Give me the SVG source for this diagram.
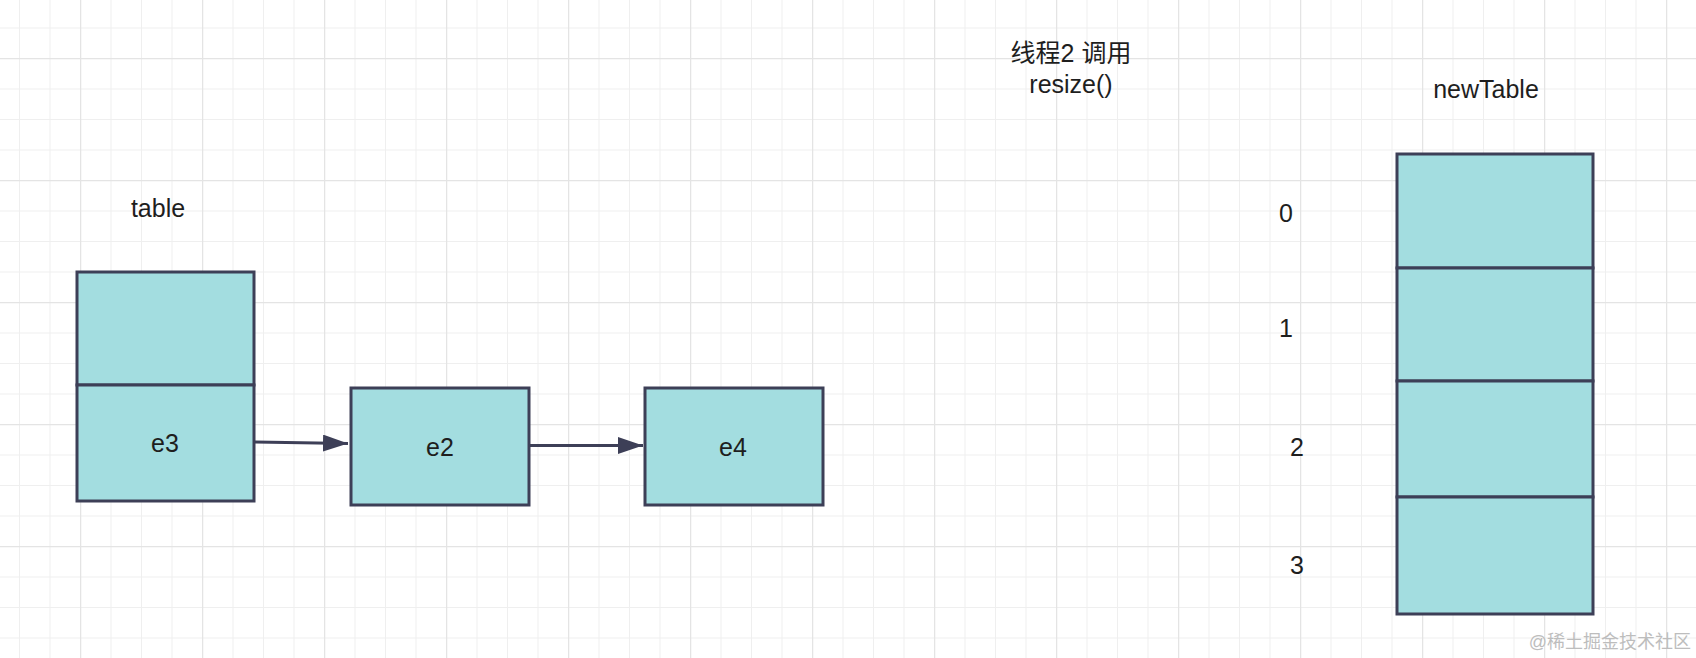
<svg xmlns="http://www.w3.org/2000/svg" width="1696" height="658" viewBox="0 0 1696 658">
  <defs>
    <pattern id="minor" x="19" y="27.5" width="30.5" height="30.5" patternUnits="userSpaceOnUse">
      <path d="M0 0 H30.5 M0 0 V30.5" fill="none" stroke="#efefef" stroke-width="2"/>
    </pattern>
    <pattern id="major" x="80" y="58" width="122" height="122" patternUnits="userSpaceOnUse">
      <path d="M0 0 H122 M0 0 V122" fill="none" stroke="#e4e4e4" stroke-width="2.5"/>
    </pattern>
    <marker id="arrow" markerUnits="userSpaceOnUse" markerWidth="26" markerHeight="18" refX="25" refY="8.5" orient="auto">
      <path d="M0 0 L25 8.5 L0 17 Z" fill="#3d3f57"/>
    </marker>
  </defs>
  <style>
    .cell { fill: #a3dde0; stroke: #3d3f57; stroke-width: 3; }
    .lbl { font-family: "Liberation Sans", Arial, "Noto Sans CJK SC", sans-serif; font-size: 25px; fill: #1e1e1e; }
    .mid { text-anchor: middle; }
    .conn { stroke: #3d3f57; stroke-width: 3; fill: none; }
  </style>
  <rect width="1696" height="658" fill="#ffffff"/>
  <rect width="1696" height="658" fill="url(#minor)"/>
  <rect width="1696" height="658" fill="url(#major)"/>

  <text class="lbl mid" x="158" y="217">table</text>

  <g id="table">
    <rect class="cell" x="77" y="272" width="177" height="113"/>
    <rect class="cell" x="77" y="385" width="177" height="116"/>
    <text class="lbl mid" x="165" y="452">e3</text>
  </g>

  <g id="e2">
    <rect class="cell" x="351" y="388" width="178" height="117"/>
    <text class="lbl mid" x="440" y="456">e2</text>
  </g>

  <g id="e4">
    <rect class="cell" x="645" y="388" width="178" height="117"/>
    <text class="lbl mid" x="733" y="456">e4</text>
  </g>

  <g id="connectors">
    <path class="conn" d="M255 442 L348 443.5" marker-end="url(#arrow)"/>
    <path class="conn" d="M530 445.5 L643 445.5" marker-end="url(#arrow)"/>
  </g>

  <g id="note">
    <text class="lbl mid" x="1071" y="62">线程2 调用</text>
    <text class="lbl mid" x="1071" y="93">resize()</text>
  </g>

  <text class="lbl mid" x="1486" y="98">newTable</text>

  <g id="newTable">
    <rect class="cell" x="1397" y="154" width="196" height="114"/>
    <rect class="cell" x="1397" y="268" width="196" height="113"/>
    <rect class="cell" x="1397" y="381" width="196" height="116"/>
    <rect class="cell" x="1397" y="497" width="196" height="117"/>
  </g>

  <g id="indices">
    <text class="lbl mid" x="1286" y="222">0</text>
    <text class="lbl mid" x="1286" y="337">1</text>
    <text class="lbl mid" x="1297" y="456">2</text>
    <text class="lbl mid" x="1297" y="574">3</text>
  </g>

  <text x="1691" y="648" text-anchor="end" font-family="Liberation Sans, 'Noto Sans CJK SC', sans-serif" font-size="18" fill="#bdbdbd">@稀土掘金技术社区</text>
</svg>
